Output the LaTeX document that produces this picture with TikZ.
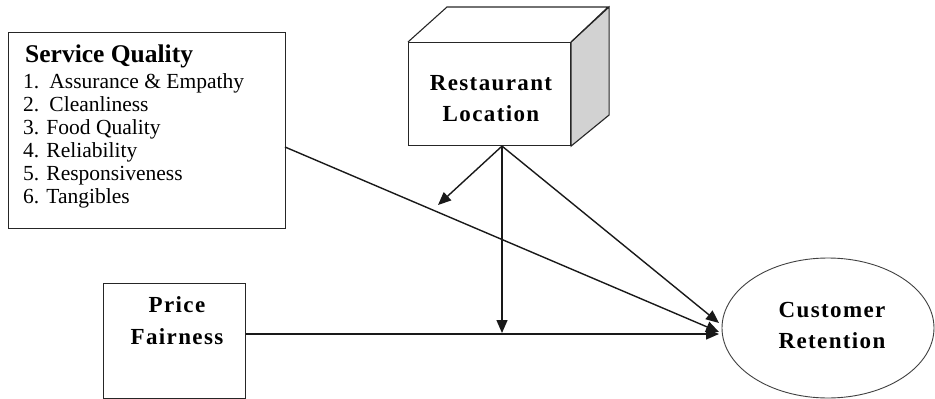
\documentclass[tikz,border=0pt]{standalone}
\usepackage{fontspec}
\setmainfont{Liberation Serif}
\newfontfamily\spbold[LetterSpace=6]{Liberation Serif}
\usetikzlibrary{arrows.meta,shapes.geometric,calc}
\begin{document}
\begin{tikzpicture}[x=1pt,y=-1pt,
  box/.style={draw=black!85,line width=1.1pt,inner sep=0pt},
  conn/.style={draw=black!90,line width=1.4pt,-{Triangle[length=13pt,width=11pt]}},
  bigbold/.style={font=\spbold\fontsize{23}{31}\selectfont\bfseries,align=center,inner sep=0pt},
  item/.style={font=\fontsize{21.5}{23}\selectfont,anchor=base west,inner sep=0pt}]
\useasboundingbox (0,0) rectangle (935,399);
% Service Quality box
\node[box,minimum width=277pt,minimum height=196pt,anchor=north west] (sq) at (8,32) {};
\node[font=\fontsize{25.5}{28}\selectfont\bfseries,anchor=base west,inner sep=0pt] (sqt) at (25,62) {Service Quality};
\node[item] (i1) at (23,88) {1.\hspace{3pt} Assurance \& Empathy};
\node[item] (i2) at (23,111) {2.\hspace{3pt} Cleanliness};
\node[item] (i3) at (23,134) {3. Food Quality};
\node[item] (i4) at (23,157) {4. Reliability};
\node[item] (i5) at (23,180) {5. Responsiveness};
\node[item] (i6) at (23,203) {6. Tangibles};
% Restaurant Location cube
\node[box,minimum width=162pt,minimum height=103pt,anchor=north west] (rl) at (408,42) {};
\filldraw[box,fill=gray!35] (rl.north east) -- ++(38,-35) -- ++(0,108) -- (rl.south east) -- cycle;
\draw[box] (rl.north west) -- ++(39,-35) -- ++(161,0) -- (rl.north east);
\node[bigbold] (rlt) at (491,99) {Restaurant\\Location};
% Price Fairness box
\node[box,minimum width=142pt,minimum height=115pt,anchor=north west] (pf) at (103,283) {};
\node[bigbold,font=\spbold\fontsize{23}{32}\selectfont\bfseries] (pft) at (177,321) {Price\\Fairness};
% Customer Retention ellipse
\node[draw=black!75,line width=0.9pt,ellipse,minimum width=212pt,minimum height=140pt,inner sep=0pt] (cr) at (828,328) {};
\node[bigbold] (crt) at (832,325) {Customer\\Retention};
% coordinates
\coordinate (rs) at ($(rl.south west)+(94,0)$);
\coordinate (m1) at (438,205);
\coordinate (m2) at (502,333);
\coordinate (t1) at (719,323);
\coordinate (t2) at (719,332);
\coordinate (t3) at (719,334);
\coordinate (sqo) at (285,147);
% connectors
\draw[conn] (sqo) -- (t2);
\draw[conn] (pf.east |- t3) -- (t3);
\draw[conn] (rs) -- (m1);
\draw[conn] (rs) -- (m2);
\draw[conn] (rs) -- (t1);
\end{tikzpicture}
\end{document}
